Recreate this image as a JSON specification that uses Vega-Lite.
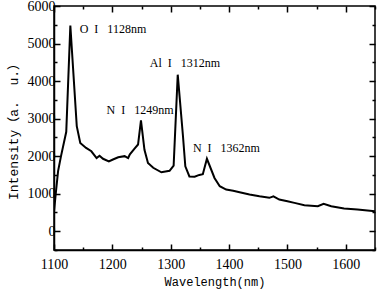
{
  "$schema": "https://vega.github.io/schema/vega-lite/v6.json",
  "autosize": {"type": "none"},
  "width": 321,
  "height": 244,
  "padding": {"left": 54, "top": 6, "right": 3, "bottom": 42},
  "background": "white",
  "config": {
    "view": {"stroke": "black", "strokeWidth": 1.5},
    "axis": {
      "grid": false,
      "domainColor": "black",
      "domainWidth": 1.5,
      "tickColor": "black",
      "tickWidth": 1.5,
      "labelFont": "Liberation Serif",
      "labelFontSize": 14,
      "labelColor": "black",
      "titleFont": "Liberation Mono, Noto Sans CJK SC",
      "titleFontSize": 12,
      "titleFontWeight": "normal",
      "titleColor": "black"
    }
  },
  "datasets": {
    "spectrum": [
      {"wavelength": 1100, "intensity": 520},
      {"wavelength": 1103, "intensity": 1000},
      {"wavelength": 1107, "intensity": 1600},
      {"wavelength": 1112, "intensity": 2000},
      {"wavelength": 1121, "intensity": 2650},
      {"wavelength": 1128, "intensity": 5480},
      {"wavelength": 1139, "intensity": 2800},
      {"wavelength": 1145, "intensity": 2350},
      {"wavelength": 1155, "intensity": 2220},
      {"wavelength": 1164, "intensity": 2130},
      {"wavelength": 1173, "intensity": 1950},
      {"wavelength": 1178, "intensity": 2010},
      {"wavelength": 1184, "intensity": 1930},
      {"wavelength": 1194, "intensity": 1860},
      {"wavelength": 1201, "intensity": 1910},
      {"wavelength": 1210, "intensity": 1970},
      {"wavelength": 1221, "intensity": 2000},
      {"wavelength": 1227, "intensity": 1950},
      {"wavelength": 1230, "intensity": 2050},
      {"wavelength": 1238, "intensity": 2200},
      {"wavelength": 1244, "intensity": 2310},
      {"wavelength": 1249, "intensity": 2950},
      {"wavelength": 1255, "intensity": 2170},
      {"wavelength": 1261, "intensity": 1820},
      {"wavelength": 1270, "intensity": 1690},
      {"wavelength": 1284, "intensity": 1570},
      {"wavelength": 1298, "intensity": 1610},
      {"wavelength": 1305, "intensity": 1750},
      {"wavelength": 1312, "intensity": 4170},
      {"wavelength": 1321, "intensity": 2530},
      {"wavelength": 1325, "intensity": 1730},
      {"wavelength": 1332, "intensity": 1460},
      {"wavelength": 1341, "intensity": 1450},
      {"wavelength": 1349, "intensity": 1500},
      {"wavelength": 1355, "intensity": 1520},
      {"wavelength": 1362, "intensity": 1930},
      {"wavelength": 1375, "intensity": 1420},
      {"wavelength": 1384, "intensity": 1200},
      {"wavelength": 1395, "intensity": 1110},
      {"wavelength": 1407, "intensity": 1080},
      {"wavelength": 1418, "intensity": 1040},
      {"wavelength": 1435, "intensity": 980},
      {"wavelength": 1452, "intensity": 930},
      {"wavelength": 1469, "intensity": 890},
      {"wavelength": 1476, "intensity": 930},
      {"wavelength": 1486, "intensity": 845},
      {"wavelength": 1500, "intensity": 800},
      {"wavelength": 1512, "intensity": 755},
      {"wavelength": 1529, "intensity": 695},
      {"wavelength": 1552, "intensity": 665},
      {"wavelength": 1562, "intensity": 730},
      {"wavelength": 1575, "intensity": 665},
      {"wavelength": 1597, "intensity": 605},
      {"wavelength": 1620, "intensity": 578},
      {"wavelength": 1650, "intensity": 530}
    ],
    "labels": [
      {"wavelength": 1144, "intensity": 5391, "label": "O\u00a0\u00a0I\u00a0\u00a0\u00a01128nm"},
      {"wavelength": 1264, "intensity": 4479, "label": "Al\u00a0\u00a0I\u00a0\u00a0\u00a01312nm"},
      {"wavelength": 1190, "intensity": 3237, "label": "N\u00a0\u00a0I\u00a0\u00a0\u00a01249nm"},
      {"wavelength": 1338, "intensity": 2218, "label": "N\u00a0\u00a0I\u00a0\u00a0\u00a01362nm"}
    ]
  },
  "resolve": {"axis": {"x": "independent", "y": "independent"}},
  "layer": [
    {
      "data": {"name": "spectrum"},
      "mark": {"type": "line", "color": "black", "strokeWidth": 2, "clip": true},
      "encoding": {
        "x": {
          "field": "wavelength", "type": "quantitative",
          "scale": {"domain": [1100, 1650], "nice": false, "zero": false},
          "axis": {
            "orient": "bottom",
            "title": "Wavelength(nm)",
            "titlePadding": 5,
            "values": [1100, 1200, 1300, 1400, 1500, 1600],
            "format": "d",
            "tickSize": -6,
            "labelPadding": 13,
            "labelFlush": false
          }
        },
        "y": {
          "field": "intensity", "type": "quantitative",
          "scale": {"domain": [-500, 6000], "nice": false, "zero": false},
          "axis": {
            "orient": "left",
            "title": "Intensity（a.\u00a0\u00a0u.）",
            "titleFontSize": 13,
            "titlePadding": 7,
            "values": [0, 1000, 2000, 3000, 4000, 5000, 6000],
            "format": "d",
            "tickSize": -6,
            "labelPadding": 5,
            "labelFlush": false
          }
        }
      }
    },
    {
      "data": {"name": "labels"},
      "mark": {"type": "text", "align": "left", "baseline": "middle", "font": "Liberation Serif", "fontSize": 12, "color": "black"},
      "encoding": {
        "text": {"field": "label"},
        "x": {
          "field": "wavelength", "type": "quantitative",
          "scale": {"domain": [1100, 1650], "nice": false, "zero": false},
          "axis": {
            "orient": "top", "title": null, "labels": false, "domain": false,
            "values": [1100, 1200, 1300, 1400, 1500, 1600],
            "tickSize": -6
          }
        },
        "y": {
          "field": "intensity", "type": "quantitative",
          "scale": {"domain": [-500, 6000], "nice": false, "zero": false},
          "axis": {
            "orient": "right", "title": null, "labels": false, "domain": false,
            "values": [0, 1000, 2000, 3000, 4000, 5000, 6000],
            "tickSize": -6
          }
        }
      }
    },
    {
      "data": {"name": "labels"},
      "mark": {"type": "point", "opacity": 0},
      "encoding": {
        "x": {
          "field": "wavelength", "type": "quantitative",
          "scale": {"domain": [1100, 1650], "nice": false, "zero": false},
          "axis": {
            "orient": "bottom", "title": null, "labels": false, "domain": false,
            "values": [1150, 1250, 1350, 1450, 1550, 1650],
            "tickSize": -3
          }
        },
        "y": {
          "field": "intensity", "type": "quantitative",
          "scale": {"domain": [-500, 6000], "nice": false, "zero": false},
          "axis": {
            "orient": "left", "title": null, "labels": false, "domain": false,
            "values": [-500, 500, 1500, 2500, 3500, 4500, 5500],
            "tickSize": -3
          }
        }
      }
    },
    {
      "data": {"name": "labels"},
      "mark": {"type": "point", "opacity": 0},
      "encoding": {
        "x": {
          "field": "wavelength", "type": "quantitative",
          "scale": {"domain": [1100, 1650], "nice": false, "zero": false},
          "axis": {
            "orient": "top", "title": null, "labels": false, "domain": false,
            "values": [1150, 1250, 1350, 1450, 1550, 1650],
            "tickSize": -3
          }
        },
        "y": {
          "field": "intensity", "type": "quantitative",
          "scale": {"domain": [-500, 6000], "nice": false, "zero": false},
          "axis": {
            "orient": "right", "title": null, "labels": false, "domain": false,
            "values": [-500, 500, 1500, 2500, 3500, 4500, 5500],
            "tickSize": -3
          }
        }
      }
    }
  ]
}
